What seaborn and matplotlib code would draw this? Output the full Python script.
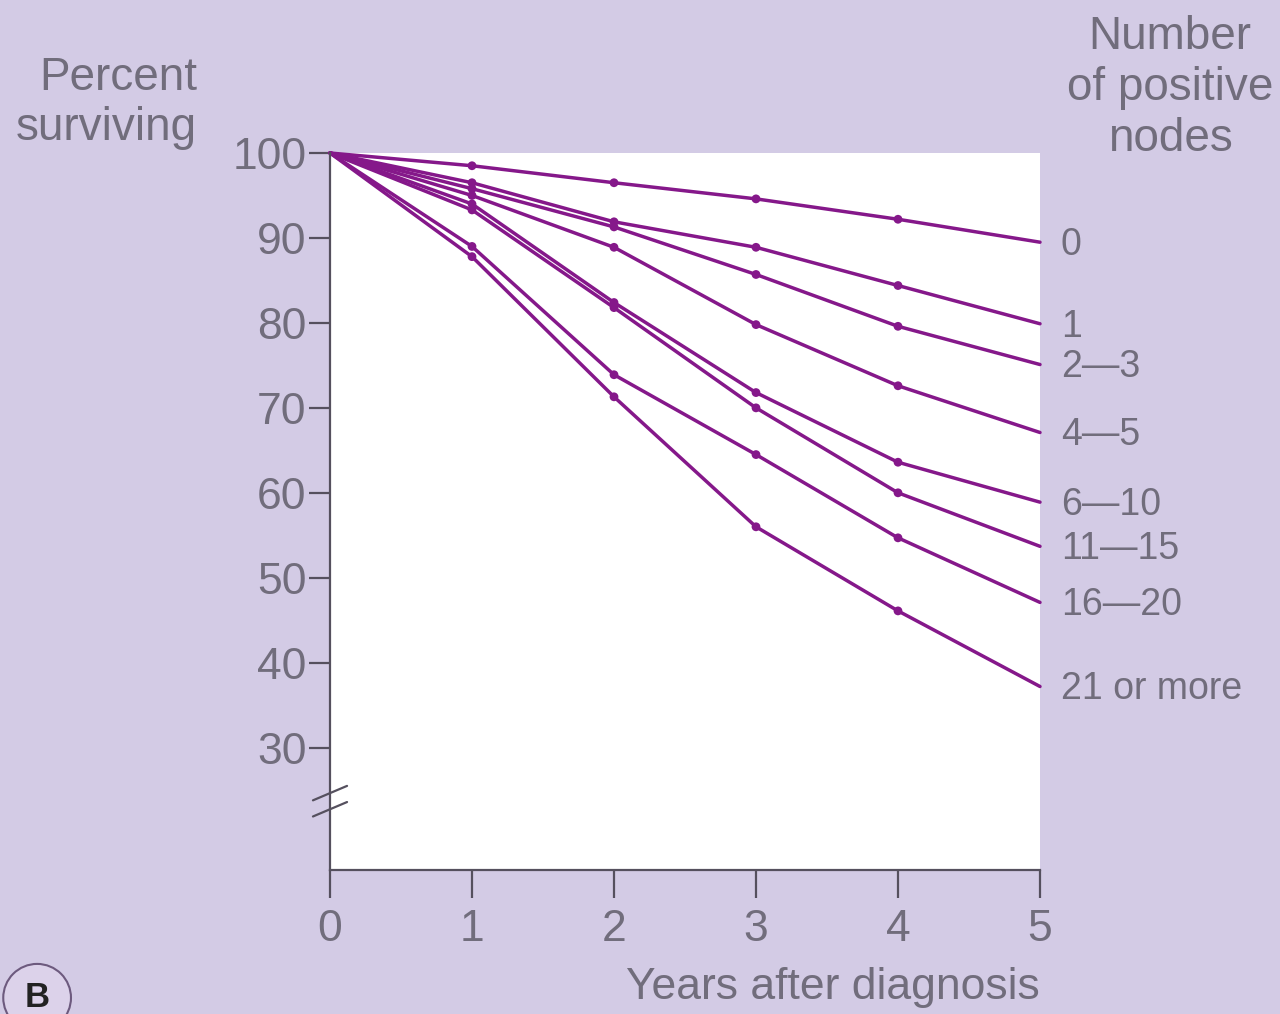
import pandas as pd
import numpy as np
import matplotlib
matplotlib.use("Agg")
import matplotlib.pyplot as plt
import seaborn as sns

# Survival by number of positive nodes
years = [0, 1, 2, 3, 4, 5]
node_groups = ["0", "1", "2\u20143", "4\u20145", "6\u201410", "11\u201415", "16\u201420", "21 or more"]
surv_0 = [100, 98.5, 96.5, 94.6, 92.2, 89.5]
surv_1 = [100, 96.5, 91.9, 88.9, 84.4, 79.9]
surv_2_3 = [100, 95.8, 91.3, 85.7, 79.6, 75.1]
surv_4_5 = [100, 95.0, 88.9, 79.8, 72.6, 67.1]
surv_6_10 = [100, 94.0, 82.4, 71.8, 63.6, 58.9]
surv_11_15 = [100, 93.3, 81.8, 70.0, 60.0, 53.7]
surv_16_20 = [100, 89.0, 73.9, 64.5, 54.7, 47.1]
surv_21 = [100, 87.8, 71.3, 56.0, 46.1, 37.2]
y_ticks = [30, 40, 50, 60, 70, 80, 90, 100]

series = [surv_0, surv_1, surv_2_3, surv_4_5, surv_6_10, surv_11_15, surv_16_20, surv_21]

rows = []
for grp, vals in zip(node_groups, series):
    for yr, v in zip(years, vals):
        rows.append({"year": yr, "pct": v, "nodes": grp})
df = pd.DataFrame(rows)

BG = "#d3cbe5"
PURPLE = "#85188a"
TXT = "#716d7c"
AXC = "#55505e"

sns.set_theme(style="ticks")
plt.rcParams["font.family"] = ["Liberation Sans", "DejaVu Sans"]

fig = plt.figure(figsize=(12.8, 10.14), dpi=100, facecolor=BG)
ax = fig.add_axes([330 / 1280, 1 - 870 / 1014, 710 / 1280, (870 - 153) / 1014])
ax.set_facecolor("white")

palette = {g: PURPLE for g in node_groups}
sns.lineplot(data=df, x="year", y="pct", hue="nodes", palette=palette,
             linewidth=2.5, legend=False, ax=ax, clip_on=False)
pts = df[(df["year"] > 0) & (df["year"] < 5)]
sns.scatterplot(data=pts, x="year", y="pct", hue="nodes", palette=palette,
                s=40, edgecolor="none", legend=False, ax=ax, zorder=3)

ax.set_xlim(0, 5)
ax.set_ylim(15.6, 100)
ax.set_yticks(y_ticks)
ax.set_xticks(years)

for s in ["top", "right"]:
    ax.spines[s].set_visible(False)
for s in ["left", "bottom"]:
    ax.spines[s].set_color(AXC)
    ax.spines[s].set_linewidth(1.6)

ax.tick_params(axis="y", direction="out", length=15, width=1.6, color=AXC,
               labelsize=32, labelcolor=TXT, pad=2)
ax.tick_params(axis="x", direction="out", length=20, width=1.6, color=AXC,
               labelsize=32, labelcolor=TXT, pad=8)
ax.set_ylabel("")
ax.set_xlabel("Years after diagnosis", fontsize=32, color=TXT, loc="right", labelpad=12)

# axis break marks on the y axis
tr = ax.get_yaxis_transform()
for off in [0.0, 1.9]:
    ax.plot([-0.024, 0.024], [21.9 + off, 23.6 + off], transform=tr,
            color=AXC, lw=1.6, clip_on=False)

# series labels at the line ends
for grp, vals in zip(node_groups, series):
    ax.annotate(grp, xy=(5, vals[-1]), xytext=(15, -2), textcoords="offset points",
                va="center", ha="left", fontsize=27, color=TXT, annotation_clip=False)

fig.text(197 / 1280, 1 - 103 / 1014, "Percent\nsurviving", ha="right", va="center",
         multialignment="right", fontsize=33, color=TXT, linespacing=1.2)
fig.text(1170 / 1280, 1 - 88 / 1014, "Number\nof positive\nnodes", ha="center", va="center",
         multialignment="center", fontsize=33, color=TXT, linespacing=1.2)

fig.text(0.029, 0.016, "B", ha="center", va="center", fontsize=25, color="#222222",
         fontweight="bold",
         bbox=dict(boxstyle="circle,pad=0.5", fc="#dcd2ea", ec="#6d5a7e", lw=1.5))

fig.savefig("out.png", dpi=100, facecolor=BG)
